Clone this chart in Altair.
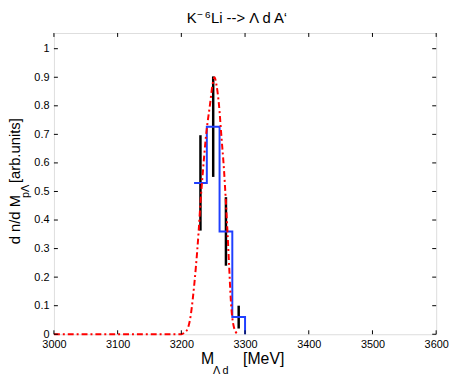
import altair as alt
import pandas as pd

# ---- data ----
x_ticks = [3000, 3100, 3200, 3300, 3400, 3500, 3600]
y_ticks = [0, 0.1, 0.2, 0.3, 0.4, 0.5, 0.6, 0.7, 0.8, 0.9, 1.0]

bin_edges = [3220, 3240, 3260, 3280, 3300]
bin_values = [0.53, 0.727, 0.36, 0.06]

point_mev = [3230, 3250, 3270, 3290]
point_val = [0.53, 0.727, 0.36, 0.06]
point_err = [0.167, 0.176, 0.12, 0.04]

curve_mev = [3000, 3100, 3200, 3205, 3210, 3215, 3218, 3223, 3227, 3230, 3234,
             3238.5, 3245, 3249, 3252, 3255, 3259, 3263, 3267, 3270, 3272.5,
             3275, 3277.5, 3282, 3288]
curve_val = [0, 0, 0, 0.006, 0.02, 0.07, 0.125, 0.24, 0.355, 0.46, 0.574,
             0.69, 0.805, 0.875, 0.90, 0.875, 0.805, 0.69, 0.574, 0.46, 0.355,
             0.24, 0.125, 0.03, 0]

FONT = "Liberation Sans"
W, H = 387, 305

xs = alt.Scale(domain=[3000, 3600], nice=False, zero=False)
ys = alt.Scale(domain=[0, 1.055], nice=False)

xaxis = alt.Axis(values=x_ticks, format="d", title=None, ticks=False, domain=False,
                 grid=False, labelFontSize=11, labelFont=FONT, labelColor="black",
                 labelPadding=4, labelFlush=False, labelOverlap=False)
yaxis = alt.Axis(values=y_ticks, format="~g", title=None, ticks=False, domain=False,
                 grid=False, labelFontSize=11, labelFont=FONT, labelColor="black",
                 labelPadding=5, labelFlush=False, labelOverlap=False)

curve_df = pd.DataFrame({"m": curve_mev, "v": curve_val})
step_df = pd.DataFrame({"m": bin_edges, "v": bin_values + [0]})
err_df = pd.DataFrame({
    "m": point_mev,
    "lo": [v - e for v, e in zip(point_val, point_err)],
    "hi": [v + e for v, e in zip(point_val, point_err)],
})
xt_df = pd.DataFrame({"t": x_ticks})
yt_df = pd.DataFrame({"t": y_ticks})

errbars = alt.Chart(err_df).mark_rule(color="black", strokeWidth=2.5).encode(
    x=alt.X("m:Q", scale=xs, axis=xaxis),
    y=alt.Y("lo:Q", scale=ys, axis=yaxis),
    y2="hi:Q",
)

steps = alt.Chart(step_df).mark_line(color="#1f3fff", strokeWidth=2,
                                     interpolate="step-after").encode(
    x=alt.X("m:Q", scale=xs, axis=xaxis),
    y=alt.Y("v:Q", scale=ys, axis=yaxis),
)

curve = alt.Chart(curve_df).mark_line(color="#ff0000", strokeWidth=2,
                                      strokeDash=[6, 3, 2, 3],
                                      interpolate="monotone").encode(
    x=alt.X("m:Q", scale=xs, axis=xaxis),
    y=alt.Y("v:Q", scale=ys, axis=yaxis),
)

tick_bottom = alt.Chart(xt_df).mark_rule(color="black", strokeWidth=1).encode(
    x=alt.X("t:Q", scale=xs, axis=xaxis), y=alt.value(H), y2=alt.value(H - 4))
tick_top = alt.Chart(xt_df).mark_rule(color="black", strokeWidth=1).encode(
    x=alt.X("t:Q", scale=xs, axis=xaxis), y=alt.value(0), y2=alt.value(4))
tick_left = alt.Chart(yt_df).mark_rule(color="black", strokeWidth=1).encode(
    y=alt.Y("t:Q", scale=ys, axis=yaxis), x=alt.value(0), x2=alt.value(4))
tick_right = alt.Chart(yt_df).mark_rule(color="black", strokeWidth=1).encode(
    y=alt.Y("t:Q", scale=ys, axis=yaxis), x=alt.value(W), x2=alt.value(W - 4))


def label(txt, x, y, size, angle=0, align="left"):
    return alt.Chart(pd.DataFrame({"s": [txt]})).mark_text(
        font=FONT, fontSize=size, color="black", align=align,
        baseline="alphabetic", angle=angle,
    ).encode(text="s:N", x=alt.value(x), y=alt.value(y))


texts = [
    # title  K^- ^6Li --> Λ d A'
    label("K", 134.5, -10, 15),
    label("\u2212", 145, -15.5, 10),
    label("6", 153, -15.5, 10),
    label("Li --> \u039b d A\u2018", 159, -10, 15),
    # x title  M_{Λ d} [MeV]
    label("M", 149, 335, 16),
    label("\u039b d", 161, 345, 11),
    label("[MeV]", 191.5, 335, 16),
    # y title  d n/d M_{pΛ} [arb.units]
    label("d n/d M", -34.5, 214, 15, angle=270),
    label("p\u039b", -25.5, 167, 11, angle=270),
    label("[arb.units]", -34.5, 152, 15, angle=270),
]

chart = alt.layer(
    errbars, steps, curve, tick_bottom, tick_top, tick_left, tick_right, *texts
).properties(
    width=W, height=H,
    autosize="none",
    padding={"left": 46.5, "top": 23, "right": 14, "bottom": 42},
).configure_view(
    stroke="black", strokeWidth=1
).configure(background="white")

chart.save("out.html", embed_options={"renderer": "svg", "actions": False})
